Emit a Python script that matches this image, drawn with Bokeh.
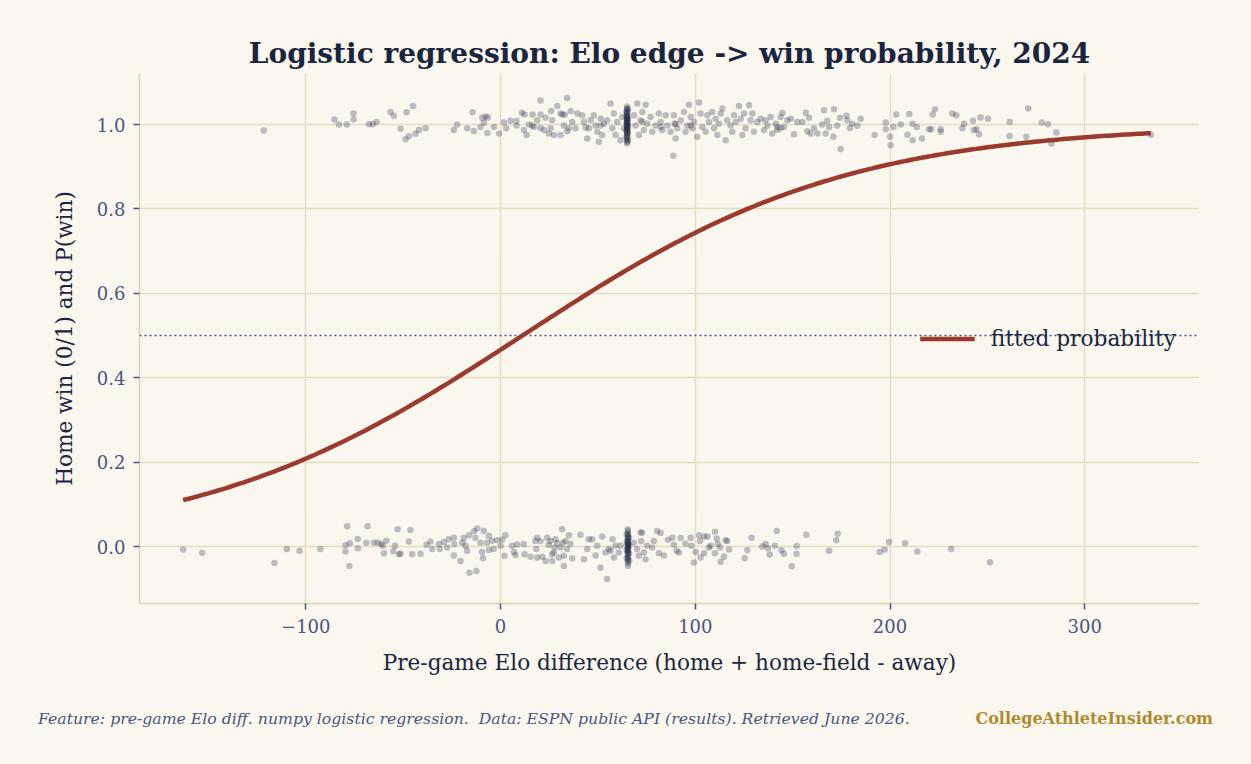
import numpy as np
from bokeh.plotting import figure
from bokeh.models import ColumnDataSource, Range1d, FixedTicker, Span, Legend, LegendItem, Div
from bokeh.layouts import column
from bokeh.embed import file_html
from bokeh.resources import INLINE

# ---- games: pre-game Elo edge and outcome (jittered vertically for display) ----
win_elo = [
    -121.6, -85.3, -83.0, -79.0, -75.5, -75.5,
    -67.6, -65.6, -63.7, -56.5, -54.8, -51.4, -48.8, -47.1, -48.3, -44.9, -43.7, -41.9, -38.5,
    -24.0, -22.3, -17.1, -14.4, -13.7, -10.3, -9.4, -7.7, -6.5, -8.5, -6.8, -3.4, -0.7,
    1.7, 2.9, 5.1, 8.2, 8.2, 11.0, 12.3, 12.0, 13.4, 14.6, 16.4, 17.1, 18.8, 20.5, 20.5, 20.5,
    23.1, 24.8, 26.0, 26.5, 27.4, 29.1, 30.8, 31.7, 32.5, 34.2, 34.2, 36.0, 36.8, 38.5, 39.4,
    30.8, 32.9, 35.1, 25.7, 16.3, 22.3,
    41.9, 42.8, 44.5, 45.4, 46.2, 47.9, 48.8, 49.7, 50.5, 51.4, 52.2, 53.1, 54.8, 56.5, 57.4,
    58.2, 59.1, 59.9, 61.6, 62.5, 63.4, 68.5, 69.3, 70.2, 71.1, 71.9, 72.8, 73.6, 74.5, 75.3,
    77.0, 77.9, 79.6, 81.3, 82.2, 83.0, 84.8, 85.6, 87.3, 89.0, 89.4, 89.9, 90.7, 92.5, 94.2,
    95.0, 95.9, 96.7, 97.6, 98.5, 99.3, 101.0, 101.9, 102.7, 103.6, 105.3, 106.2, 107.0, 108.7,
    109.6, 110.4, 111.3, 112.1, 113.0, 113.9, 115.6, 116.4, 118.1, 119.0, 119.9, 120.7, 122.4,
    123.3, 124.1, 125.0, 125.8, 127.6, 128.4, 129.3, 130.1, 131.8, 133.5, 135.3, 136.1, 137.0,
    138.7, 139.5, 141.3, 142.1, 143.8, 144.7, 145.5, 147.2, 149.0, 150.7, 152.4, 88.7,
    142.1, 143.8, 97.6, 89.9, 51.4, 43.7, 72.8, 82.2,
    65, 65, 65, 65, 65, 65, 65, 65, 65, 65, 65, 65, 65, 65, 65,
    65, 65, 65, 65, 65, 65, 65, 65, 65, 65, 65, 65, 65, 65, 65,
    64.6, 64.6, 64.6, 64.6, 64.6, 65.4, 65.4, 65.4, 65.4, 65.4,
    155.0, 156.7, 158.4, 157.5, 159.2, 160.9, 162.7, 165.2, 166.1, 167.0, 167.8, 168.7, 170.9,
    171.2, 172.9, 174.3, 174.6, 177.6, 178.1, 179.4, 180.6, 183.2, 184.9, 192.1, 197.8, 197.8,
    200.0, 200.3, 201.7, 203.2, 205.5, 208.9, 209.9, 211.5, 211.6, 213.7, 216.4, 220.0, 221.2,
    221.9, 223.1, 226.0, 226.0, 232.0, 234.0, 237.1, 238.0, 242.6, 243.1, 244.5, 245.7, 246.5,
    250.3, 261.4, 261.4,
    271.0, 270.0, 277.9, 281.0, 285.4, 282.9, 333.9,
]
win_y = [
    0.986, 1.012, 1.000, 1.000, 1.026, 1.012,
    1.001, 1.001, 1.006, 1.030, 1.021, 0.990, 0.965, 0.972, 1.029, 1.044, 0.978, 0.987, 0.991,
    0.987, 1.000, 0.991, 1.029, 0.985, 0.994, 1.016, 1.019, 1.017, 1.004, 0.980, 0.994, 0.979,
    1.005, 0.991, 1.009, 1.009, 0.998, 1.028, 1.024, 0.987, 0.975, 1.000, 1.024, 0.994, 1.010,
    1.057, 1.024, 0.992,
    1.016, 0.979, 1.032, 1.010, 0.975, 1.044, 0.975, 1.024, 0.998, 1.063, 0.984, 1.032, 1.006,
    0.991, 1.026,
    1.026, 1.024, 0.991, 0.991, 0.998, 0.987,
    1.022, 1.006, 0.967, 0.991, 1.010, 1.022, 0.998, 0.983, 0.959, 1.014, 0.975, 1.002, 1.010,
    1.050, 0.991, 1.026, 0.975, 1.006, 0.963, 1.018, 0.991, 1.022, 0.998, 1.050, 0.975, 1.010,
    1.030, 0.987, 1.047, 1.002, 1.018, 0.983, 0.998, 1.026, 1.006, 0.987, 1.022, 0.998, 0.983,
    1.022, 1.002, 0.967, 0.991, 1.010, 1.030, 0.983, 0.998, 1.047, 1.018, 0.991, 1.006, 0.971,
    1.052, 1.026, 0.994, 0.983, 1.022, 1.006, 1.030, 0.991, 1.014, 0.975, 1.002, 1.026, 1.038,
    0.963, 1.010, 0.998, 0.983, 1.022, 1.006, 1.044, 1.014, 0.975, 1.026, 0.991, 1.046, 1.010,
    1.026, 0.983, 1.006, 1.014, 0.987, 1.010, 0.998, 1.018, 0.979, 1.002, 0.994, 1.018, 1.028,
    0.994, 1.010, 1.014, 0.977, 1.006, 0.926,
    0.987, 0.991, 0.998, 1.002, 0.998, 0.993, 1.006, 0.994,
    1.043, 1.038, 1.034, 1.030, 1.027, 1.024, 1.021, 1.018, 1.015, 1.012, 1.009, 1.006, 1.003,
    1.000, 0.997, 0.994, 0.991, 0.988, 0.985, 0.982, 0.979, 0.976, 0.972, 0.968, 0.964, 0.959,
    0.955, 1.001, 1.011, 0.993,
    1.031, 1.019, 1.004, 0.986, 0.970, 1.036, 1.013, 0.996, 0.981, 0.962,
    1.006, 1.028, 1.016, 0.984, 0.979, 0.991, 0.979, 1.000, 1.034, 0.979, 1.009, 0.994, 0.971,
    1.036, 0.998, 1.016, 0.942, 1.021, 1.010, 0.992, 1.002, 0.997, 1.014, 0.975, 1.005, 0.989,
    0.971, 0.951, 0.994, 1.024, 1.000, 0.976, 1.025, 1.002, 0.963, 0.994, 0.967, 0.989, 0.989,
    1.024, 1.036, 0.989, 0.983, 1.026, 1.022, 0.991, 1.002, 1.009, 0.987, 0.989, 0.977, 1.017,
    1.014, 1.006, 0.973,
    1.038, 0.971, 1.005, 1.001, 0.981, 0.955, 0.976,
]

loss_elo = [
    -163.0, -153.2, -116.1, -109.7, -103.2, -92.5, -78.8, -68.3, -52.9, -79.6, -79.6, -77.6,
    -77.4, -73.3, -73.3, -69.0, -65.1, -63.0, -61.3, -60.4, -58.6, -59.9, -55.1, -54.3, -52.2,
    -46.3, -47.1, -51.4, -45.4, -41.1, -38.0, -35.1, -36.0, -31.7, -31.2, -29.1, -27.4, -26.6,
    -24.0, -23.7, -24.0, -20.6, -18.9, -19.7, -18.0, -17.2, -16.3, -16.0, -13.7, -12.4, -12.0,
    -12.9, -10.3, -9.5, -8.6, -9.0, -6.9, -6.0, -6.0, -4.3, -3.5, -1.8, 0.0, 0.8, 2.5, 2.0,
    5.9, 6.8, 8.5, 7.7, 11.9, 12.3, 15.4, 17.9, 18.8, 18.4, 18.8, 20.5, 21.4, 23.1, 23.9, 24.8,
    25.6, 26.5, 26.5, 27.4, 27.7, 28.2, 29.1, 29.9, 30.8, 31.6, 32.1, 32.5, 32.5, 33.3, 34.2,
    35.1, 35.9, 36.8, 41.0, 42.8, 44.5, 45.3, 47.0, 48.8, 49.6, 51.3, 52.2, 53.9, 54.7, 55.6,
    56.5, 57.5, 58.2, 59.0, 60.7, 61.6,
    65.4, 65.4, 65.4, 65.4, 65.4, 65.4, 65.4, 65.4, 65.4, 65.4, 65.4, 65.4, 65.4,
    65.4, 65.4, 65.4, 65.4, 65.4, 65.4, 65.4, 65.4, 65.4, 65.4, 65.4, 65.4, 65.4,
    64.8, 64.8, 64.8, 64.8, 66.0, 66.0, 66.0, 66.0,
    68.4, 70.1, 71.0, 71.9, 72.7, 72.2, 73.6, 74.4, 75.3, 77.9, 78.7, 80.4, 81.3,
    83.9, 82.2, 86.0, 88.2, 89.0, 90.4, 91.6, 92.5, 95.0, 97.6, 98.0, 99.3, 100.2, 101.9, 102.4,
    102.7, 104.5, 104.5, 106.2, 107.0, 107.9, 110.1, 110.1, 111.0, 111.6, 112.7, 113.0, 114.7,
    115.6, 116.4, 117.3, 125.3, 126.7, 128.9, 134.4, 136.1, 137.3, 138.2, 140.9, 141.8, 144.2,
    145.5, 149.5, 152.0, 152.0, 157.0, 168.7, 172.4, 173.1, 194.7, 197.2, 199.5, 207.7, 214.0,
    231.4, 251.3,
]
loss_y = [
    -0.007, -0.015, -0.039, -0.006, -0.010, -0.006, 0.048, 0.048, 0.041, 0.003, -0.012, -0.046,
    0.008, 0.018, -0.004, 0.009, 0.009, 0.009, 0.006, 0.002, 0.014, -0.016, -0.011, 0.002, -0.018,
    0.039, 0.012, -0.017, -0.018, -0.017, 0.004, -0.006, 0.012, 0.006, -0.006, 0.011, -0.002,
    0.017, 0.021, 0.006, -0.021, -0.034, 0.020, 0.009, 0.002, -0.010, 0.027, -0.062, 0.036,
    -0.058, 0.043, 0.021, 0.009, -0.013, 0.037, -0.028, 0.009, 0.025, -0.008, 0.014, -0.006,
    0.015, 0.002, 0.016, 0.027, -0.022, 0.002, -0.013, 0.005, -0.020, 0.006, -0.018, -0.024,
    0.013, 0.021, -0.006, -0.026, 0.013, -0.024, -0.034, 0.021, 0.004, 0.013, -0.018, -0.034,
    -0.014, -0.002, 0.017, 0.008, -0.026, -0.002, 0.041, 0.009, -0.022, -0.046, 0.013, -0.006,
    0.027, 0.006, -0.028, 0.028, -0.030, -0.006, 0.017, 0.017, -0.021, 0.002, -0.050, 0.024,
    -0.014, -0.077, -0.006, -0.010, 0.017, -0.026, 0.002, -0.014, 0.002,
    0.041, 0.036, 0.031, 0.027, 0.023, 0.019, 0.016, 0.013, 0.010, 0.007, 0.004, 0.001, -0.002,
    -0.005, -0.008, -0.011, -0.014, -0.018, -0.022, -0.026, -0.030, -0.035, -0.040, -0.046,
    0.005, -0.003,
    0.029, 0.011, -0.009, -0.028, 0.021, 0.003, -0.016, -0.033,
    0.009, -0.006, -0.022, 0.033, 0.033, 0.013, -0.014, -0.030, 0.002, -0.002, 0.013, 0.037,
    -0.016,
    -0.021, 0.032, 0.016, 0.021, 0.004, -0.010, -0.014, 0.020, 0.007, 0.021, 0.002, -0.038,
    -0.013, 0.027, 0.013, -0.026, 0.024, -0.016, 0.024, -0.002, 0.002, 0.035, -0.016, 0.019,
    0.006, -0.002, -0.036, -0.024, 0.015, 0.013, -0.007, -0.028, -0.009, 0.021, 0.000, 0.006,
    -0.004, -0.019, 0.002, 0.037, -0.009, -0.017, -0.047, 0.001, -0.017, 0.028, -0.010, 0.015,
    0.030, -0.013, -0.007, 0.011, 0.008, -0.012, -0.006, -0.037,
]

# fitted logistic model: P(win) = 1 / (1 + exp(-(b0 + b1 * elo)))
b0 = -0.135
b1 = 0.012

x_ticks = [-100, 0, 100, 200, 300]
y_ticks = [0.0, 0.2, 0.4, 0.6, 0.8, 1.0]

BG = "#faf7ef"
INK = "#1b2540"
SLATE = "#4a5580"
GRID = "#e4ddc2"
SPINE = "#dbd2b3"
RED = "#9b3a2e"
SERIF = "DejaVu Serif"

all_elo = np.array(win_elo + loss_elo)
curve_x = np.linspace(all_elo.min(), all_elo.max(), 300)
curve_p = 1.0 / (1.0 + np.exp(-(b0 + b1 * curve_x)))

p = figure(
    width=1251, height=680,
    x_range=Range1d(-185.4, 358.9), y_range=Range1d(-0.135, 1.121),
    output_backend="svg", toolbar_location=None,
    background_fill_color=BG, border_fill_color=BG,
    min_border_left=139, min_border_right=52, min_border_top=73, min_border_bottom=77,
    title="Logistic regression: Elo edge -> win probability, 2024",
)
p.outline_line_color = None

p.title.align = "center"
p.title.text_font = SERIF
p.title.text_font_style = "bold"
p.title.text_font_size = "28px"
p.title.text_color = INK
p.title.standoff = 8

pts = ColumnDataSource(dict(x=win_elo + loss_elo, y=win_y + loss_y))
p.scatter("x", "y", source=pts, size=6.5, fill_color=INK, fill_alpha=0.28, line_color=None)

p.add_layout(Span(location=0.5, dimension="width", line_color=SLATE,
                  line_width=1.5, line_dash="2 3"))

curve = p.line(curve_x, curve_p, line_color=RED, line_width=4.5)

legend = Legend(items=[LegendItem(label="fitted probability", renderers=[curve])],
                location="right", background_fill_alpha=0, border_line_alpha=0,
                label_text_font=SERIF, label_text_font_size="21.7px", label_text_color=INK,
                glyph_width=55, glyph_height=22, label_standoff=16, margin=23, padding=0)
p.add_layout(legend, "center")

for ax in (p.xaxis[0], p.yaxis[0]):
    ax.axis_line_color = SPINE
    ax.axis_line_width = 1.5
    ax.major_tick_line_color = SLATE
    ax.major_tick_line_width = 1.5
    ax.major_tick_out = 6
    ax.major_tick_in = 0
    ax.minor_tick_line_color = None
    ax.major_label_text_font = SERIF
    ax.major_label_text_font_size = "18px"
    ax.major_label_text_color = SLATE
    ax.axis_label_text_font = SERIF
    ax.axis_label_text_font_size = "21.6px"
    ax.axis_label_text_font_style = "normal"
    ax.axis_label_text_color = INK

p.xaxis.ticker = FixedTicker(ticks=x_ticks)
p.yaxis.ticker = FixedTicker(ticks=y_ticks)
p.xaxis.major_label_overrides = {t: (f"\u2212{abs(t)}" if t < 0 else str(t)) for t in x_ticks}
p.yaxis.major_label_overrides = {t: f"{t:.1f}" for t in y_ticks}
p.xaxis.axis_label = "Pre-game Elo difference (home + home-field - away)"
p.yaxis.axis_label = "Home win (0/1) and P(win)"
p.xaxis.major_label_standoff = 9
p.yaxis.major_label_standoff = 8
p.xaxis.axis_label_standoff = 14
p.yaxis.axis_label_standoff = 17

p.xgrid.grid_line_color = GRID
p.ygrid.grid_line_color = GRID
p.xgrid.grid_line_width = 1.5
p.ygrid.grid_line_width = 1.5

footer = Div(
    width=1251, height=84,
    styles={"background-color": BG},
    text=(
        f"<div style='position:relative;width:1251px;height:84px;font-family:\"{SERIF}\";'>"
        f"<span style='position:absolute;left:33px;top:23px;font-size:15.7px;font-style:italic;"
        f"color:{SLATE};white-space:pre;'>Feature: pre-game Elo diff. numpy logistic regression.  "
        f"Data: ESPN public API (results). Retrieved June 2026.</span>"
        f"<span style='position:absolute;right:43px;top:23px;font-size:16px;font-weight:bold;"
        f"color:#b08a2e;'>CollegeAthleteInsider.com</span></div>"
    ),
)

layout = column(p, footer, spacing=0, styles={"background-color": BG})
open("out.html", "w").write(file_html(layout, INLINE))
